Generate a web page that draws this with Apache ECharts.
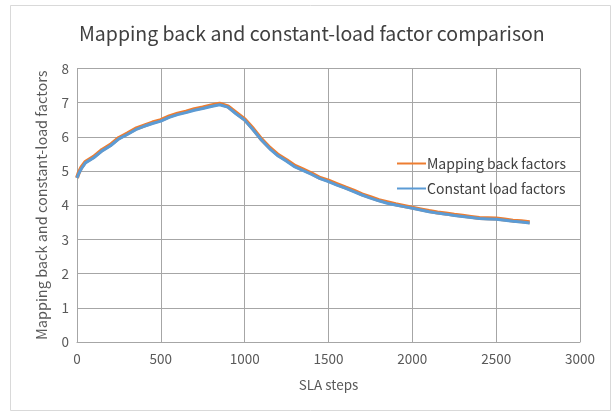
<!DOCTYPE html>
<html>
<head>
<meta charset="utf-8">
<script src="https://cdn.jsdelivr.net/npm/echarts@6/dist/echarts.min.js"></script>
<style>html,body{margin:0;padding:0;background:#fff}#c{width:615px;height:416px}</style>
</head>
<body>
<div id="c"></div>
<script>
const titleText = 'Mapping back and constant-load factor comparison';
const xName = 'SLA steps';
const yName = 'Mapping back and constant-load factors';
const seriesNames = ['Mapping back factors', 'Constant load factors'];
const steps = [0, 10, 25, 50, 100, 150, 200, 250, 300, 350, 400, 450, 500, 550, 600, 650, 700, 750, 800, 850, 900, 950, 1000, 1050, 1100, 1150, 1200, 1250, 1300, 1350, 1400, 1450, 1500, 1550, 1600, 1650, 1700, 1750, 1800, 1850, 1900, 1950, 2000, 2050, 2100, 2150, 2200, 2250, 2300, 2350, 2400, 2450, 2500, 2550, 2600, 2650, 2700];
const mappingBack = [4.80, 4.95, 5.10, 5.27, 5.42, 5.62, 5.77, 5.97, 6.10, 6.24, 6.33, 6.42, 6.49, 6.60, 6.68, 6.74, 6.81, 6.86, 6.92, 6.97, 6.89, 6.70, 6.51, 6.24, 5.93, 5.68, 5.47, 5.32, 5.15, 5.04, 4.93, 4.80, 4.72, 4.62, 4.52, 4.43, 4.32, 4.24, 4.15, 4.09, 4.03, 3.98, 3.93, 3.88, 3.83, 3.79, 3.76, 3.72, 3.69, 3.66, 3.63, 3.62, 3.61, 3.58, 3.55, 3.53, 3.50];
const constantLoad = [4.80, 4.92, 5.06, 5.24, 5.39, 5.59, 5.74, 5.94, 6.07, 6.21, 6.31, 6.39, 6.46, 6.57, 6.65, 6.71, 6.78, 6.83, 6.89, 6.94, 6.87, 6.67, 6.49, 6.21, 5.91, 5.65, 5.44, 5.29, 5.12, 5.01, 4.90, 4.78, 4.69, 4.59, 4.50, 4.40, 4.30, 4.21, 4.13, 4.06, 4.01, 3.96, 3.91, 3.86, 3.81, 3.77, 3.74, 3.70, 3.67, 3.64, 3.61, 3.60, 3.59, 3.56, 3.53, 3.51, 3.48];
const yTicks = [0, 1, 2, 3, 4, 5, 6, 7, 8];
const xTicks = [0, 500, 1000, 1500, 2000, 2500, 3000];

const font = '"Noto Sans CJK SC", "Noto Sans", sans-serif';
const chart = echarts.init(document.getElementById('c'), null, {renderer: 'canvas'});
chart.setOption({
  backgroundColor: '#ffffff',
  animation: false,
  graphic: [{
    type: 'rect', shape: {x: 10.5, y: 5.5, width: 600, height: 405},
    style: {fill: 'none', stroke: '#d9d9d9', lineWidth: 1}, silent: true, z: -1
  }],
  title: {
    text: titleText, left: 74, top: 19,
    textStyle: {fontFamily: font, fontSize: 19.5, fontWeight: 'normal', color: '#404040'}
  },
  legend: {
    orient: 'vertical', left: 392, top: 150, itemGap: 8,
    itemWidth: 29, itemHeight: 2, icon: 'rect',
    data: seriesNames,
    textStyle: {fontFamily: font, fontSize: 14, color: '#404040', padding: [0, 0, 0, -4], lineHeight: 17}
  },
  grid: {left: 77, right: 35, top: 68.5, bottom: 74, containLabel: false},
  xAxis: {
    type: 'value', min: xTicks[0], max: xTicks[xTicks.length - 1], interval: 500,
    name: xName, nameLocation: 'middle', nameGap: 36,
    nameTextStyle: {fontFamily: font, fontSize: 13.5, color: '#595959'},
    axisLine: {show: true, lineStyle: {color: '#a6a6a6', width: 1}},
    axisTick: {show: false},
    axisLabel: {fontFamily: font, fontSize: 13.5, color: '#595959', margin: 10, formatter: v => String(v)},
    splitLine: {show: true, lineStyle: {color: '#a6a6a6', width: 1}}
  },
  yAxis: {
    type: 'value', min: yTicks[0], max: yTicks[yTicks.length - 1], interval: 1,
    name: yName, nameLocation: 'middle', nameGap: 28,
    nameTextStyle: {fontFamily: font, fontSize: 14.5, color: '#595959'},
    axisLine: {show: true, lineStyle: {color: '#a6a6a6', width: 1}},
    axisTick: {show: false},
    axisLabel: {fontFamily: font, fontSize: 13.5, color: '#595959', margin: 8},
    splitLine: {show: true, lineStyle: {color: '#a6a6a6', width: 1}}
  },
  series: [
    {
      name: seriesNames[0], type: 'line', symbol: 'none', z: 2,
      data: steps.map((s, i) => [s, mappingBack[i]]),
      lineStyle: {color: '#ED7D31', width: 4}, itemStyle: {color: '#ED7D31'}
    },
    {
      name: seriesNames[1], type: 'line', symbol: 'none', z: 3,
      data: steps.map((s, i) => [s, constantLoad[i]]),
      lineStyle: {color: '#5B9BD5', width: 3}, itemStyle: {color: '#5B9BD5'}
    }
  ]
});
</script>
</body>
</html>
